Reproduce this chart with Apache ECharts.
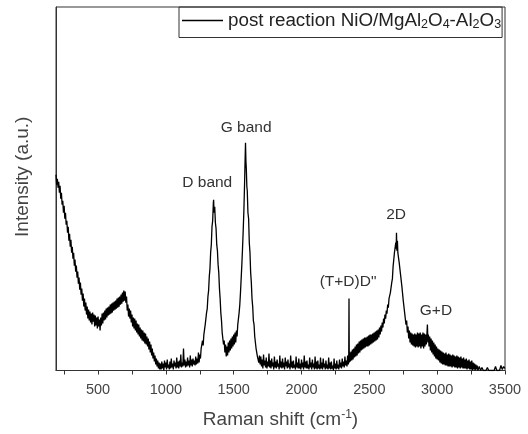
<!DOCTYPE html>
<html><head><meta charset="utf-8">
<script src="https://cdn.jsdelivr.net/npm/echarts@6/dist/echarts.min.js"></script>
<style>html,body{margin:0;padding:0;background:#fff}#c{width:528px;height:434px}</style>
</head><body><div id="c"></div>
<script>
// Raman spectrum [shift (cm^-1), intensity (a.u.)]
const spectrum = [
[190,196],[195,186],[200,192],[205,183],[210,189],[215,178],[220,185],[225,172],[230,178],[235,166],[240,170],[245,158],[250,165],[255,152],[260,158],[265,146],[270,150],[275,138],[280,144],[285,130],[290,137],[295,124],[300,131],[305,118],[310,124],[315,112],[320,118],[325,105],[330,111],[335,99],[340,105],[345,93],[350,99],[355,87],[360,93],[365,81],[370,88],[375,76],[380,82],[385,70],[390,77],[395,64],[400,72],[405,60],[410,68],[415,56],[420,64],[425,52],[430,61],[435,50],[440,59],[445,48],[450,57],[455,46],[460,58],[465,49],[470,56],[475,44],[480,55],[485,45],[490,53],[495,42],[500,54],[505,44],[510,51],[515,40],[520,53],[525,45],[530,57],[535,47],[540,58],[545,50],[550,60],[555,51],[560,62],[565,53],[570,63],[575,55],[580,64],[585,56],[590,66],[595,57],[600,67],[605,58],[610,68],[615,60],[620,69],[625,61],[630,70],[635,62],[640,72],[645,63],[650,73],[655,64],[660,74],[665,66],[670,76],[675,67],[680,78],[685,69],[690,80],[695,70],[700,79],[705,68],[710,74],[715,60],[720,66],[725,54],[730,62],[735,52],[740,60],[745,48],[750,56],[755,44],[760,53],[765,42],[770,52],[775,40],[780,50],[785,38],[790,47],[795,36],[800,46],[805,34],[810,43],[815,32],[820,41],[825,30],[830,40],[835,29],[840,38],[845,27],[850,37],[855,26],[860,34],[865,24],[870,32],[875,21],[880,29],[885,18],[890,26],[895,15],[900,22],[905,12],[910,18],[915,9],[920,15],[925,6],[930,12],[935,4],[940,10],[945,2],[950,8],[955,1],[960,7],
[965,1],[970,9],[975,2],[980,7],[985,0],[990,10],[995,3],[1000,8],[1005,1],[1010,11],[1015,3],[1020,6],[1025,1],[1030,9],[1035,2],[1040,12],[1045,3],[1050,7],[1055,1],[1060,10],[1065,4],[1070,8],[1075,2],[1080,13],[1085,3],[1090,9],[1095,2],[1100,10],[1105,4],[1110,16],[1115,3],[1120,8],[1125,4],[1130,22],[1135,5],[1140,11],[1145,3],[1150,9],[1155,4],[1160,13],[1165,5],[1170,10],[1175,3],[1180,15],[1185,5],[1190,11],[1195,4],[1200,12],[1205,6],[1210,10],[1215,5],[1220,14],[1225,6],[1230,12],[1235,7],[1240,18],[1245,8],[1250,16],[1255,12],[1260,22],[1265,20],
[1270,30],[1275,25],[1280,36],[1285,34],[1290,46],[1295,48],[1300,58],[1305,62],[1310,74],[1315,80],[1320,94],[1325,102],[1330,118],[1335,126],[1340,144],[1345,150],[1350,168],[1352,171],[1355,158],[1360,164],[1365,148],[1370,142],[1375,126],[1380,120],[1385,106],[1390,98],[1395,82],[1400,72],[1405,58],[1410,50],[1415,38],[1420,36],[1425,26],[1430,30],[1435,18],[1440,26],[1445,14],[1450,24],[1455,15],[1460,28],[1465,18],[1470,30],[1475,20],[1480,32],[1485,22],[1490,34],[1495,24],[1500,36],[1505,26],[1510,38],[1515,28],[1520,40],[1525,34],[1530,46],[1535,48],[1540,58],[1545,66],[1550,78],[1555,92],[1560,106],[1565,122],[1570,140],[1575,160],[1580,186],[1583,205],[1587,228],[1590,210],[1593,202],[1597,184],[1600,180],[1605,158],[1610,152],[1615,128],[1620,118],[1625,98],[1630,88],[1635,72],[1640,64],[1645,50],[1650,46],[1655,34],[1660,32],[1665,22],[1670,22],[1675,14],[1680,16],[1685,8],[1690,15],[1695,6],
[1700,14],[1705,4],[1710,11],[1715,2],[1720,16],[1725,5],[1730,10],[1735,3],[1740,13],[1745,2],[1750,9],[1755,4],[1760,17],[1765,3],[1770,10],[1775,2],[1780,12],[1785,4],[1790,8],[1795,1],[1800,14],[1805,3],[1810,9],[1815,2],[1820,11],[1825,4],[1830,7],[1835,1],[1840,15],[1845,3],[1850,9],[1855,2],[1860,12],[1865,3],[1870,8],[1875,1],[1880,13],[1885,4],[1890,9],[1895,2],[1900,11],[1905,3],[1910,7],[1915,1],[1920,15],[1925,3],[1930,9],[1935,2],[1940,10],[1945,3],[1950,6],[1955,1],[1960,14],[1965,3],[1970,8],[1975,2],[1980,12],[1985,2],[1990,7],[1995,1],[2000,11],[2005,3],[2010,8],[2015,1],[2020,15],[2025,3],[2030,9],[2035,2],[2040,10],[2045,2],[2050,6],[2055,1],[2060,13],[2065,3],[2070,8],[2075,1],[2080,11],[2085,3],[2090,7],[2095,1],[2100,14],[2105,2],[2110,9],[2115,1],[2120,10],[2125,2],[2130,6],[2135,1],[2140,13],[2145,2],[2150,8],[2155,1],[2160,12],[2165,3],[2170,7],[2175,1],[2180,10],[2185,2],[2190,6],[2195,1],[2200,13],[2205,2],[2210,8],[2215,1],[2220,9],[2225,2],[2230,5],[2235,0],[2240,12],[2245,2],[2250,7],[2255,1],[2260,10],[2265,2],[2270,6],[2275,1],[2280,11],[2285,3],[2290,8],[2295,2],[2300,12],[2305,4],[2310,9],[2315,3],[2320,14],[2325,5],[2330,10],[2335,4],[2340,15],[2345,6],[2348,10],[2350,72],[2352,8],[2355,18],[2360,9],
[2365,19],[2370,10],[2375,21],[2380,11],[2385,22],[2390,13],[2395,24],[2400,14],[2405,26],[2410,15],[2415,27],[2420,17],[2425,29],[2430,18],[2435,30],[2440,20],[2445,31],[2450,21],[2455,32],[2460,22],[2465,33],[2470,23],[2475,33],[2480,24],[2485,34],[2490,24],[2495,35],[2500,25],[2505,36],[2510,26],[2515,36],[2520,27],[2525,37],[2530,28],[2535,38],[2540,29],[2545,39],[2550,30],[2555,40],[2560,31],[2565,41],[2570,33],[2575,43],[2580,36],[2585,45],[2590,39],[2595,48],[2600,43],[2605,52],[2610,47],[2615,56],[2620,52],[2625,60],[2630,57],[2635,66],[2640,63],[2645,72],[2650,70],[2655,78],[2660,78],[2665,88],[2670,92],[2675,104],[2680,106],[2685,118],[2690,116],[2695,128],[2698,122],[2700,138],[2703,120],[2707,130],[2710,118],[2715,120],[2720,108],[2725,106],[2730,96],[2735,94],[2740,84],[2745,82],[2750,70],[2755,68],[2760,58],[2765,58],[2770,46],[2775,50],[2780,38],[2785,44],[2790,32],[2795,40],[2800,28],[2805,38],[2810,26],[2815,37],[2820,25],[2825,36],[2830,24],[2835,37],[2840,23],[2845,36],[2850,24],[2855,38],[2860,23],[2865,37],[2870,24],[2875,38],[2880,22],[2885,36],[2890,24],[2895,38],[2900,22],[2905,37],[2910,24],[2915,36],[2920,26],[2925,38],[2928,46],[2932,28],[2935,36],[2940,24],[2945,34],[2950,20],[2955,32],[2960,18],[2965,30],[2970,16],[2975,28],[2980,14],[2985,26],[2990,12],[2995,24],[3000,11],[3005,22],[3010,10],[3015,21],[3020,8],[3025,20],[3030,7],[3035,19],[3040,6],[3045,18],[3050,6],[3055,17],[3060,5],[3065,18],[3070,5],[3075,16],[3080,4],[3085,17],[3090,4],[3095,16],[3100,4],[3105,15],[3110,3],[3115,16],[3120,4],[3125,15],[3130,3],[3135,14],[3140,3],[3145,15],[3150,2],[3155,14],[3160,3],[3165,13],[3170,2],[3175,14],[3180,3],[3185,12],[3190,2],[3195,13],[3200,2],[3205,11],[3210,2],[3215,12],[3220,1],[3225,10],[3230,2],[3235,11],[3240,1],[3245,9],[3250,1],[3255,10],[3260,0],[3265,8],[3270,1],[3275,7],[3280,0],[3285,6],[3290,1],[3295,5],[3300,0],[3310,4],[3320,0],[3330,3],[3340,0],[3350,2],[3360,0],[3370,3],[3380,0],[3390,2],[3400,0],[3410,1],[3420,0],[3430,4],[3440,0],[3450,2],[3460,0],[3470,5],[3480,1],[3490,4],[3500,2]
];
const tickValues = [250,500,750,1000,1250,1500,1750,2000,2250,2500,2750,3000,3250,3500];
const tickLabels = [500,1000,1500,2000,2500,3000,3500];
const annotations = [
  {name:'D band', x:1305, y:188},
  {name:'G band', x:1592, y:243},
  {name:'2D', x:2697, y:156},
  {name:'(T+D)D"', x:2343, y:89},
  {name:'G+D', x:2991, y:60}
];
const seriesName = 'post reaction NiO/MgAl2O4-Al2O3';

const FONT = 'Liberation Sans, Arial, sans-serif';
const chart = echarts.init(document.getElementById('c'), null, {renderer:'canvas'});
chart.setOption({
  animation:false,
  backgroundColor:'#fff',
  textStyle:{fontFamily:FONT},
  grid:{left:56,right:23,top:7,bottom:63,show:true,borderColor:'#333',borderWidth:1,backgroundColor:'transparent'},
  legend:{
    left:179, top:7, padding:[4,1,6,3], borderColor:'#333', borderWidth:1, borderRadius:0,
    icon:'rect', itemWidth:41, itemHeight:1.5, itemGap:4,
    itemStyle:{color:'#000'},
    data:[{name:seriesName}],
    formatter:()=> 'post reaction NiO/MgAl{s|2}O{s|4}-Al{s|2}O{s|3}',
    textStyle:{fontFamily:FONT,fontSize:18.8,color:'#222',
      rich:{s:{fontFamily:FONT,fontSize:12.5,color:'#222',padding:[9,0,0,0]}}}
  },
  xAxis:{
    type:'value', min:190, max:3500,
    axisLine:{show:true,lineStyle:{color:'#333',width:1}},
    axisTick:{show:true,inside:false,length:4,customValues:tickValues,lineStyle:{color:'#333'}},
    axisLabel:{customValues:tickLabels,margin:12,fontSize:14.5,color:'#444',fontFamily:FONT,formatter:v=>String(v)},
    splitLine:{show:false},
    name:'Raman shift (cm{sup|-1})', nameLocation:'middle', nameGap:38,
    nameTextStyle:{fontSize:19,color:'#444',fontFamily:FONT,rich:{sup:{fontSize:12,color:'#444',padding:[0,0,10,0]}}}
  },
  yAxis:{
    type:'value', min:0, max:364,
    axisLine:{show:true,lineStyle:{color:'#333',width:1}},
    axisTick:{show:false}, axisLabel:{show:false}, splitLine:{show:false},
    name:'Intensity (a.u.)', nameLocation:'middle', nameGap:24,
    nameTextStyle:{fontSize:19,color:'#444',fontFamily:FONT,padding:[0,0,0,24]}
  },
  series:[{
    name:seriesName, type:'line', data:spectrum, symbol:'none', showSymbol:false,
    lineStyle:{color:'#000',width:1.3}, itemStyle:{color:'#000'},
    markPoint:{
      symbol:'circle', symbolSize:0,
      label:{show:true,position:'inside',formatter:p=>p.name,fontSize:15.5,color:'#333',fontFamily:FONT},
      data:annotations.map(a=>({name:a.name,coord:[a.x,a.y]}))
    }
  }]
});
</script></body></html>
